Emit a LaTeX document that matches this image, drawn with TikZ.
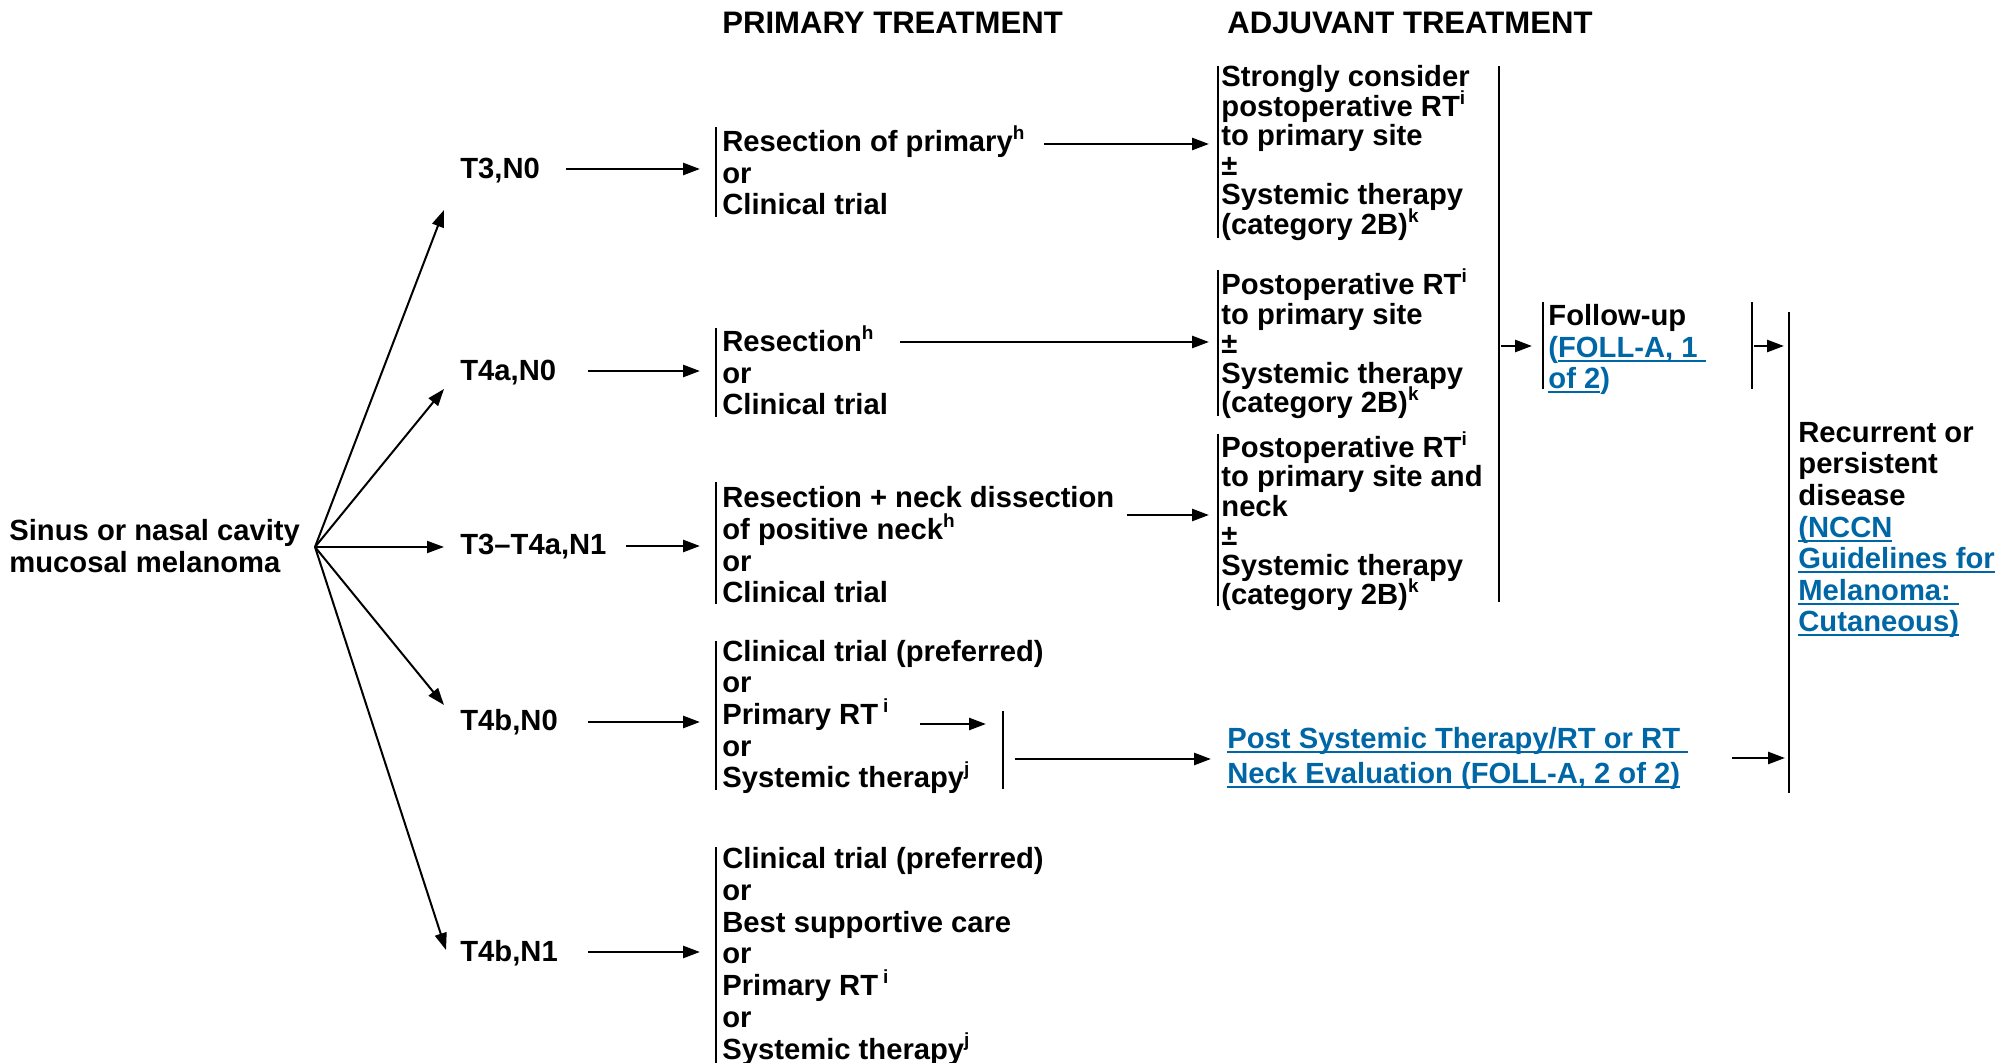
\documentclass[tikz,border=0pt]{standalone}
\usepackage{fontspec}
\setmainfont{Liberation Sans}
\usetikzlibrary{arrows.meta}
\definecolor{linkblue}{RGB}{0,103,166}
\newcommand\sx[1]{\raisebox{0.42em}{\fontsize{9.5}{9.5}\selectfont #1}}
\newcommand\ulx[1]{\leavevmode\setbox0\hbox{#1}\rlap{\rule[-0.15em]{\wd0}{0.065em}}\box0}
\newcommand\lk[1]{\textcolor{linkblue}{#1}}
\newcommand\tightls{\lineskiplimit=-20pt\relax}
\begin{document}
% multi-line nodes are anchored at the baseline of their LAST line
\begin{tikzpicture}[x=0.5pt,y=-0.5pt,
  txt/.style={font=\bfseries\fontsize{14.6}{15.85}\selectfont\tightls, align=left, inner ysep=0pt, inner xsep=0pt, anchor=base west},
  prim/.style={txt, inner xsep=3pt},
  adj/.style={txt, inner xsep=1.5pt, font=\bfseries\fontsize{14.6}{14.75}\selectfont\tightls},
  head/.style={txt, font=\bfseries\fontsize{15.55}{16}\selectfont},
  arr/.style={line width=1.3pt, -{Triangle[length=8.5pt,width=6pt]}},
  br/.style={line width=1pt, -{Triangle[length=8.5pt,width=6pt]}},
  bar/.style={line width=1.2pt}]
\useasboundingbox (0,0) rectangle (1999,1063);

% headers
\node[head] (hp) at (722,34) {PRIMARY TREATMENT};
\node[head] (ha) at (1227,34) {ADJUVANT TREATMENT};

% source
\node[txt, font=\bfseries\fontsize{14.6}{16}\selectfont] (src) at (9,573) {Sinus or nasal cavity\\mucosal melanoma};
\coordinate (o) at (315,547);

% stage labels
\node[txt] (s1) at (460,179) {T3,N0};
\node[txt] (s2) at (460,381) {T4a,N0};
\node[txt] (s3) at (460,555) {T3–T4a,N1};
\node[txt] (s4) at (460,731) {T4b,N0};
\node[txt] (s5) at (460,961) {T4b,N1};

\coordinate (e1) at (444,210);
\coordinate (e2) at (444,389);
\coordinate (e3) at (444,547);
\coordinate (e4) at (444,705);
\coordinate (e5) at (446,950);
\foreach \i in {1,...,5} \draw[br] (o) -- (e\i);

% primary treatment
\node[prim] (p1) at (716,215) {Resection of primary\sx{h}\\or\\Clinical trial};
\node[prim] (p2) at (716,415) {Resection\sx{h}\\or\\Clinical trial};
\node[prim] (p3) at (716,603) {Resection + neck dissection\\of positive neck\sx{h}\\or\\Clinical trial};
\node[prim] (p4) at (716,788) {Clinical trial (preferred)\\or\\Primary RT\,\sx{i}\\or\\Systemic therapy\sx{j}};
\node[prim] (p5) at (716,1059) {Clinical trial (preferred)\\or\\Best supportive care\\or\\Primary RT\,\sx{i}\\or\\Systemic therapy\sx{j}};

\draw[bar] (p1.west |- 0,127) -- (p1.west |- 0,217);
\draw[bar] (p2.west |- 0,328) -- (p2.west |- 0,417);
\draw[bar] (p3.west |- 0,482) -- (p3.west |- 0,604);
\draw[bar] (p4.west |- 0,641) -- (p4.west |- 0,790);
\draw[bar] (p5.west |- 0,847) -- (p5.west |- 0,1063);

% stage -> primary
\coordinate (q1) at (566,169);
\coordinate (q2) at (588,371);
\coordinate (q3) at (626,546);
\coordinate (q4) at (588,722);
\coordinate (q5) at (588,952);
\draw[arr, shorten >=8pt] (q1) -- (q1 -| p1.west);
\draw[arr, shorten >=8pt] (q2) -- (q2 -| p2.west);
\draw[arr, shorten >=8pt] (q3) -- (q3 -| p3.west);
\draw[arr, shorten >=8pt] (q4) -- (q4 -| p4.west);
\draw[arr, shorten >=8pt] (q5) -- (q5 -| p5.west);

% adjuvant
\node[adj] (a1) at (1218,234.5) {Strongly consider\\postoperative RT\sx{i}\\to primary site\\±\\Systemic therapy\\(category 2B)\sx{k}};
\node[adj] (a2) at (1218,413) {Postoperative RT\sx{i}\\to primary site\\±\\Systemic therapy\\(category 2B)\sx{k}};
\node[adj] (a3) at (1218,605) {Postoperative RT\sx{i}\\to primary site and\\neck\\±\\Systemic therapy\\(category 2B)\sx{k}};
\draw[bar] (a1.west |- 0,66) -- (a1.west |- 0,238);
\draw[bar] (a2.west |- 0,270) -- (a2.west |- 0,416);
\draw[bar] (a3.west |- 0,434) -- (a3.west |- 0,606);

% primary -> adjuvant
\coordinate (r1) at (1044,144);
\coordinate (r2) at (900,342);
\coordinate (r3) at (1127,515);
\draw[arr, shorten >=4.5pt] (r1) -- (r1 -| a1.west);
\draw[arr, shorten >=4.5pt] (r2) -- (r2 -| a2.west);
\draw[arr, shorten >=4.5pt] (r3) -- (r3 -| a3.west);

% T4b,N0 path
\coordinate (sbt) at (1003,711);
\coordinate (sbb) at (1003,789);
\draw[bar] (sbt) -- (sbb);
\coordinate (u1) at (920,724);
\draw[arr, shorten >=8.5pt] (u1) -- (u1 -| sbt);
\node[txt, font=\bfseries\fontsize{14.6}{17.5}\selectfont] (ps) at (1227,784) {\lk{\ulx{Post Systemic Therapy/RT or RT\ }}\\\lk{\ulx{Neck Evaluation (FOLL-A, 2 of 2)}}};
\coordinate (u2) at (1015,759);
\draw[arr, shorten >=8pt] (u2) -- (u2 -| ps.west);

% right collector line
\coordinate (rlt) at (1499,66);
\coordinate (rlb) at (1499,602);
\draw[bar] (rlt) -- (rlb);

% follow-up
\node[txt, inner xsep=2.5pt, font=\bfseries\fontsize{14.6}{15.75}\selectfont] (f) at (1543,389) {Follow-up\\\lk{(\ulx{FOLL-A, 1\ }}\\\lk{\ulx{of 2})}};
\draw[bar] (f.west |- 0,302) -- (f.west |- 0,389);
\coordinate (fr) at (1752,302);
\coordinate (frb) at (1752,389);
\draw[bar] (fr) -- (frb);
\coordinate (w1) at (1501,346);
\draw[arr, shorten >=5.5pt] (w1) -- (w1 -| f.west);

% recurrent
\node[txt, inner xsep=4.5pt, font=\bfseries\fontsize{14.6}{15.8}\selectfont] (r) at (1789,632) {Recurrent or\\persistent\\disease\\\lk{\ulx{(NCCN}}\\\lk{\ulx{Guidelines for}}\\\lk{\ulx{Melanoma:\ }}\\\lk{\ulx{Cutaneous)}}};
\draw[bar] (r.west |- 0,312) -- (r.west |- 0,793);
\coordinate (w2) at (1754,346);
\draw[arr, shorten >=2.5pt] (w2) -- (w2 -| r.west);
\coordinate (w3) at (1732,758);
\draw[arr, shorten >=2pt] (w3) -- (w3 -| r.west);
\end{tikzpicture}
\end{document}
